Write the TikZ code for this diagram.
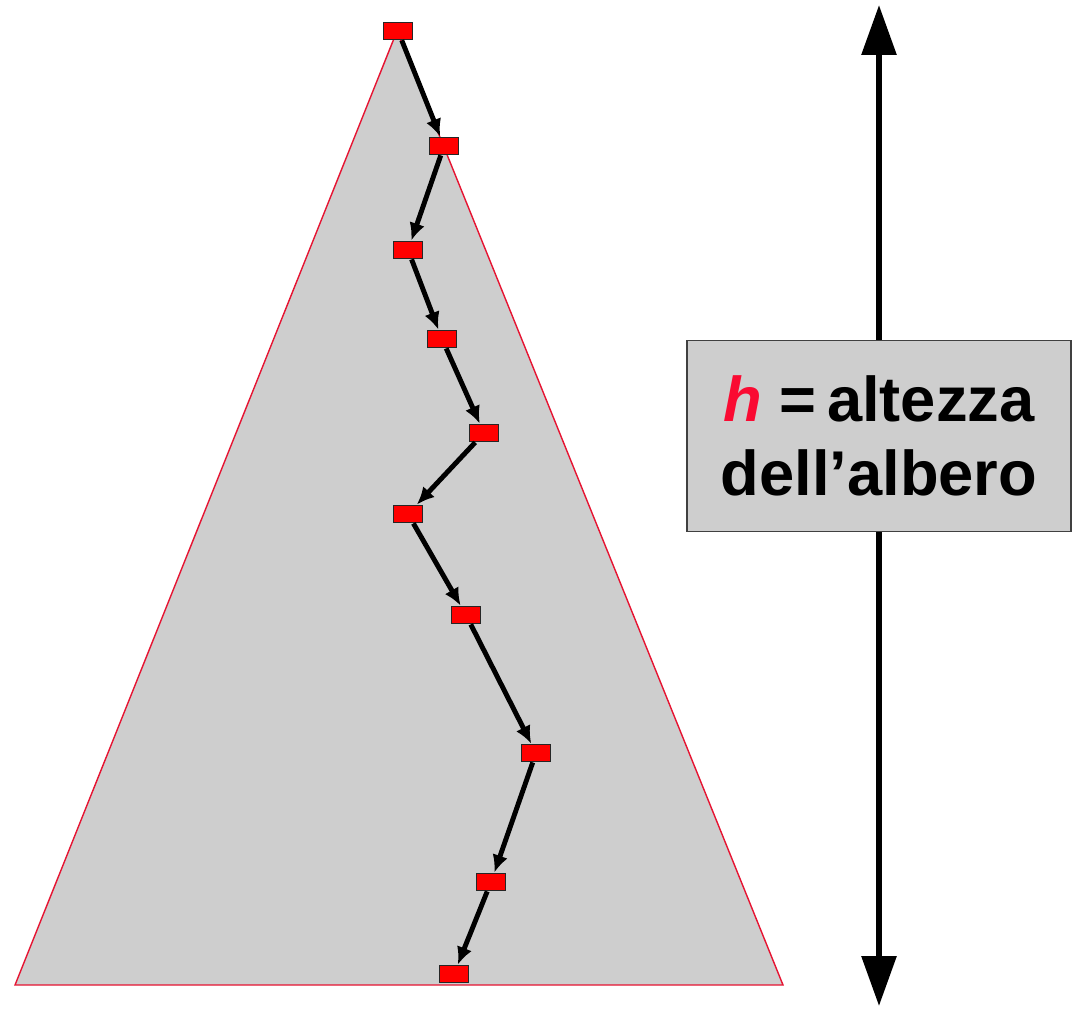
\documentclass[tikz,border=0pt]{standalone}
\usepackage{fontspec}
\setmainfont{Liberation Sans}
\usetikzlibrary{arrows.meta, positioning}

\definecolor{treegray}{RGB}{206,206,206}
\definecolor{edgered}{RGB}{230,20,50}
\definecolor{hred}{RGB}{250,10,50}

\begin{document}
\begin{tikzpicture}[
    x=0.02cm, y=-0.02cm,
    visit/.style={rectangle, draw=black!85, line width=1pt, fill=red, minimum width=0.58cm, minimum height=0.34cm, inner sep=0pt},
    label/.style={rectangle, draw=black!75, line width=0.8pt, fill=treegray, align=center, minimum width=7.68cm, minimum height=3.82cm, font=\bfseries\fontsize{36}{42.5}\selectfont},
    arrow/.style={-{Latex[length=10pt, width=9pt]}, line width=2.8pt},
    bigarrow/.style={-{Triangle[length=1cm, width=0.68cm]}, line width=3.4pt}
]
\useasboundingbox (0,0) rectangle (1077,1009);

% Tree as a triangle
\coordinate (apex)  at (397, 31);
\coordinate (left)  at (15, 985);
\coordinate (right) at (783, 985);
\draw[edgered, line width=0.8pt, fill=treegray] (apex) -- (left) -- (right) -- cycle;

% Path from root to leaf
\node[visit] (n1)  at (398, 31)  {};
\node[visit] (n2)  at (444, 146) {};
\node[visit] (n3)  at (408, 250) {};
\node[visit] (n4)  at (442, 339) {};
\node[visit] (n5)  at (484, 433) {};
\node[visit] (n6)  at (408, 514) {};
\node[visit] (n7)  at (466, 615) {};
\node[visit] (n8)  at (536, 753) {};
\node[visit] (n9)  at (491, 882) {};
\node[visit] (n10) at (454, 974) {};

\draw[arrow] (n1) -- (n2);
\draw[arrow] (n2) -- (n3);
\draw[arrow] (n3) -- (n4);
\draw[arrow] (n4) -- (n5);
\draw[arrow] (n5) -- (n6);
\draw[arrow] (n6) -- (n7);
\draw[arrow] (n7) -- (n8);
\draw[arrow] (n8) -- (n9);
\draw[arrow] (n9) -- (n10);

% Height of the tree
\node[label] (height) at (879, 436) {{\color{hred}\textit{h}} =\,altezza\\dell’albero};
\coordinate (htop) at (879, 5);
\coordinate (hbot) at (879, 1006);
\draw[bigarrow] (height.north) -- (htop);
\draw[bigarrow] (height.south) -- (hbot);

\end{tikzpicture}
\end{document}
